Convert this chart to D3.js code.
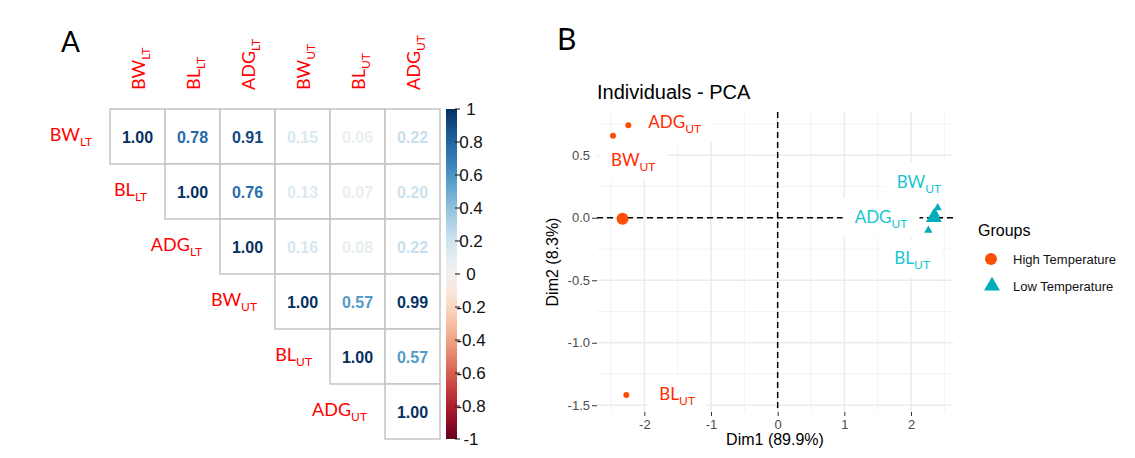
<!DOCTYPE html>
<html>
<head>
<meta charset="utf-8">
<script src="https://cdn.jsdelivr.net/npm/d3@7"></script>
<style>
  body { margin: 0; background: #fff; }
  svg { display: block; }
</style>
</head>
<body>
<div id="chart"></div>
<script>
// ---- data ----
// variable names (base + subscript)
const varBase = ["BW", "BL", "ADG", "BW", "BL", "ADG"];
const varSub = ["LT", "LT", "LT", "UT", "UT", "UT"];

// upper triangle of the correlation matrix, row by row starting at the diagonal
const corrRows = [
  [1.00, 0.78, 0.91, 0.15, 0.06, 0.22],
  [1.00, 0.76, 0.13, 0.07, 0.20],
  [1.00, 0.16, 0.08, 0.22],
  [1.00, 0.57, 0.99],
  [1.00, 0.57],
  [1.00]
];
const colorbarTicks = [1, 0.8, 0.6, 0.4, 0.2, 0, -0.2, -0.4, -0.6, -0.8, -1];

// PCA individuals
const indNames = ["BW", "ADG", "BL"];
const highDim1 = [-2.47, -2.24, -2.27];
const highDim2 = [0.656, 0.74, -1.418];
const lowDim1 = [2.40, 2.37, 2.26];
const lowDim2 = [0.08, 0.03, -0.10];
const groups = ["High Temperature", "Low Temperature"];
const xTicks = [-2, -1, 0, 1, 2];
const yTicks = [0.5, 0, -0.5, -1, -1.5];

// ---- setup ----
const W = 1135, H = 458;
const svg = d3.select("#chart").append("svg")
  .attr("width", W)
  .attr("height", H);

const labelFont = "Lato, 'Open Sans', sans-serif";
const rFont = "'Liberation Sans', Arial, sans-serif";

// helper for a label with a subscript
function subLabel(sel, base, sub, size, subSize) {
  sel.append("tspan").text(base).style("font-size", size + "px");
  sel.append("tspan").text(sub).style("font-size", subSize + "px")
    .attr("dy", size * 0.28);
}

// panel letters
svg.append("text").attr("x", 61).attr("y", 52)
  .style("font-family", labelFont).style("font-size", "28px").text("A");
svg.append("text").attr("x", 557).attr("y", 50)
  .style("font-family", labelFont).style("font-size", "30px").text("B");

// ================= Panel A: correlation matrix =================
const n = varBase.length;
const cellX = d3.scaleBand().domain(d3.range(n)).range([110, 440]);
const cellY = d3.scaleBand().domain(d3.range(n)).range([109, 439]);
const corrColor = v => d3.interpolateRdBu((v + 1) / 2);

const cells = [];
corrRows.forEach((row, i) => row.forEach((v, k) => cells.push({ i: i, j: i + k, v: v })));

const gA = svg.append("g");

gA.selectAll("rect.cell")
  .data(cells)
  .enter().append("rect")
    .attr("class", "cell")
    .attr("x", d => cellX(d.j))
    .attr("y", d => cellY(d.i))
    .attr("width", cellX.bandwidth())
    .attr("height", cellY.bandwidth())
    .attr("fill", "#fff")
    .attr("stroke", "#c4c4c4")
    .attr("stroke-width", 1.5);

gA.selectAll("text.val")
  .data(cells)
  .enter().append("text")
    .attr("class", "val")
    .attr("x", d => cellX(d.j) + cellX.bandwidth() / 2)
    .attr("y", d => cellY(d.i) + cellY.bandwidth() / 2 + 6)
    .attr("text-anchor", "middle")
    .style("font-family", rFont)
    .style("font-weight", "bold")
    .style("font-size", "16px")
    .style("fill", d => corrColor(d.v))
    .text(d => d.v.toFixed(2));

// row labels (left of the diagonal)
d3.range(n).forEach(i => {
  const t = gA.append("text")
    .attr("x", cellX(i) - 18)
    .attr("y", cellY(i) + cellY.bandwidth() / 2 + 4)
    .attr("text-anchor", "end")
    .style("font-family", labelFont)
    .style("fill", "#ff0000");
  subLabel(t, varBase[i], varSub[i], 18, 12);
});

// column labels (rotated)
d3.range(n).forEach(j => {
  const cx = cellX(j) + cellX.bandwidth() / 2 + 7;
  const t = gA.append("text")
    .attr("transform", `translate(${cx},90) rotate(-90)`)
    .attr("text-anchor", "start")
    .style("font-family", labelFont)
    .style("fill", "#ff0000");
  subLabel(t, varBase[j], varSub[j], 18, 12);
});

// colour bar
const cbY = d3.scaleLinear().domain([-1, 1]).range([439, 109]);
const defs = svg.append("defs");
const grad = defs.append("linearGradient")
  .attr("id", "cbgrad")
  .attr("x1", 0).attr("x2", 0).attr("y1", 1).attr("y2", 0);
d3.range(0, 1.0001, 0.05).forEach(t => {
  grad.append("stop").attr("offset", t).attr("stop-color", d3.interpolateRdBu(t));
});
gA.append("rect")
  .attr("x", 446).attr("y", cbY(1))
  .attr("width", 11).attr("height", cbY(-1) - cbY(1))
  .attr("fill", "url(#cbgrad)");

gA.selectAll("line.cbtick")
  .data(colorbarTicks)
  .enter().append("line")
    .attr("x1", 455).attr("x2", 460)
    .attr("y1", d => cbY(d)).attr("y2", d => cbY(d))
    .attr("stroke", "#111").attr("stroke-width", 1);

gA.selectAll("text.cblab")
  .data(colorbarTicks)
  .enter().append("text")
    .attr("x", 471)
    .attr("y", d => cbY(d) + 6)
    .attr("text-anchor", "middle")
    .style("font-family", rFont)
    .style("font-size", "17px")
    .style("fill", "#111")
    .text(d => d3.format("")(d).replace("−", "-"));

// ================= Panel B: PCA individuals =================
const x = d3.scaleLinear().domain([-2.71, 2.63]).range([597, 953]);
const y = d3.scaleLinear().domain([-1.554, 0.846]).range([412, 112]);
const gB = svg.append("g");

const xMinor = [-2.5, -1.5, -0.5, 0.5, 1.5, 2.5];
const yMinor = [0.75, 0.25, -0.25, -0.75, -1.25];

// grid
gB.selectAll("line.xminor").data(xMinor).enter().append("line")
  .attr("x1", d => x(d)).attr("x2", d => x(d))
  .attr("y1", y.range()[1]).attr("y2", y.range()[0])
  .attr("stroke", "#f0f0f0").attr("stroke-width", 0.8);
gB.selectAll("line.yminor").data(yMinor).enter().append("line")
  .attr("y1", d => y(d)).attr("y2", d => y(d))
  .attr("x1", x.range()[0]).attr("x2", x.range()[1])
  .attr("stroke", "#f0f0f0").attr("stroke-width", 0.8);
gB.selectAll("line.xmajor").data(xTicks).enter().append("line")
  .attr("x1", d => x(d)).attr("x2", d => x(d))
  .attr("y1", y.range()[1]).attr("y2", y.range()[0])
  .attr("stroke", "#ebebeb").attr("stroke-width", 1.5);
gB.selectAll("line.ymajor").data(yTicks).enter().append("line")
  .attr("y1", d => y(d)).attr("y2", d => y(d))
  .attr("x1", x.range()[0]).attr("x2", x.range()[1])
  .attr("stroke", "#ebebeb").attr("stroke-width", 1.5);

// axes
const xAxis = gB.append("g")
  .attr("transform", `translate(0,${y.range()[0]})`)
  .call(d3.axisBottom(x).tickValues(xTicks).tickSize(4).tickPadding(4)
    .tickFormat(d => d3.format("")(d).replace("−", "-")));
const yAxis = gB.append("g")
  .attr("transform", `translate(${x.range()[0]},0)`)
  .call(d3.axisLeft(y).tickValues(yTicks).tickSize(5).tickPadding(2)
    .tickFormat(d => d3.format(".1f")(d).replace("−", "-")));
[xAxis, yAxis].forEach(a => {
  a.select(".domain").remove();
  a.selectAll(".tick line").attr("stroke", "#333");
  a.selectAll("text")
    .style("font-family", rFont)
    .style("font-size", "13px")
    .style("fill", "#4d4d4d");
});
// no tick mark at 0.5 in the original
yAxis.selectAll(".tick").filter(d => d === 0.5).select("line").remove();

// dashed reference lines
gB.append("line")
  .attr("x1", x(0)).attr("x2", x(0))
  .attr("y1", y.range()[1]).attr("y2", y.range()[0])
  .attr("stroke", "#000").attr("stroke-width", 1.5)
  .style("stroke-dasharray", "6,4");
gB.append("line")
  .attr("x1", x.range()[0]).attr("x2", x.range()[1])
  .attr("y1", y(0)).attr("y2", y(0))
  .attr("stroke", "#000").attr("stroke-width", 1.5)
  .style("stroke-dasharray", "6,4");

const highCol = "#fc4e07", lowCol = "#00afbb";
const highLab = "#ff2a00", lowLab = "#17c7d0";

const high = indNames.map((nm, i) => ({ name: nm, d1: highDim1[i], d2: highDim2[i] }));
const low = indNames.map((nm, i) => ({ name: nm, d1: lowDim1[i], d2: lowDim2[i] }));

// points
gB.selectAll("circle.hi").data(high).enter().append("circle")
  .attr("cx", d => x(d.d1)).attr("cy", d => y(d.d2))
  .attr("r", 3).attr("fill", highCol);
const tri = d3.symbol().type(d3.symbolTriangle);
gB.selectAll("path.lo").data(low).enter().append("path")
  .attr("transform", d => `translate(${x(d.d1)},${y(d.d2)})`)
  .attr("d", tri.size(30)())
  .attr("fill", lowCol);

// group centroids
gB.append("circle")
  .attr("cx", x(d3.mean(highDim1))).attr("cy", y(d3.mean(highDim2)))
  .attr("r", 6).attr("fill", highCol);
gB.append("path")
  .attr("transform", `translate(${x(d3.mean(lowDim1))},${y(d3.mean(lowDim2))})`)
  .attr("d", d3.symbol().type(d3.symbolTriangle).size(110)())
  .attr("fill", lowCol);

// repelled labels with white boxes: offsets in px from the point
const highOff = [[-2, 30], [20, 3], [33, 5]];
const lowOff = [[-41, -20], [-81, 9], [-34, 34]];
function addLabels(data, offs, col) {
  data.forEach((d, i) => {
    const g = gB.append("g");
    const box = g.append("rect").attr("fill", "#fff");
    const t = g.append("text")
      .attr("x", x(d.d1) + offs[i][0])
      .attr("y", y(d.d2) + offs[i][1])
      .style("font-family", labelFont)
      .style("fill", col);
    subLabel(t, d.name, "UT", 17, 12);
    const bb = t.node().getBBox();
    box.attr("x", bb.x - 12).attr("y", bb.y - 8)
      .attr("width", bb.width + 24).attr("height", bb.height + 14);
  });
}
addLabels(high, highOff, highLab);
addLabels(low, lowOff, lowLab);

// title and axis titles
gB.append("text").attr("x", 597).attr("y", 99)
  .style("font-family", rFont).style("font-size", "20px")
  .text("Individuals - PCA");
gB.append("text").attr("x", 775).attr("y", 445)
  .attr("text-anchor", "middle")
  .style("font-family", rFont).style("font-size", "16px")
  .text("Dim1 (89.9%)");
gB.append("text")
  .attr("transform", `translate(558,${(y.range()[0] + y.range()[1]) / 2}) rotate(-90)`)
  .attr("text-anchor", "middle")
  .style("font-family", rFont).style("font-size", "16px")
  .text("Dim2 (8.3%)");

// legend
const legend = svg.append("g").attr("transform", "translate(978,236)");
legend.append("text").attr("x", 0).attr("y", 0)
  .style("font-family", rFont).style("font-size", "16px").text("Groups");
legend.append("circle").attr("cx", 13).attr("cy", 23).attr("r", 6).attr("fill", highCol);
legend.append("path").attr("transform", "translate(14,50)")
  .attr("d", d3.symbol().type(d3.symbolTriangle).size(110)())
  .attr("fill", lowCol);
legend.selectAll("text.item").data(groups).enter().append("text")
  .attr("x", 35).attr("y", (d, i) => 28 + i * 27)
  .style("font-family", rFont).style("font-size", "13px")
  .style("fill", "#111")
  .text(d => d);
</script>
</body>
</html>
